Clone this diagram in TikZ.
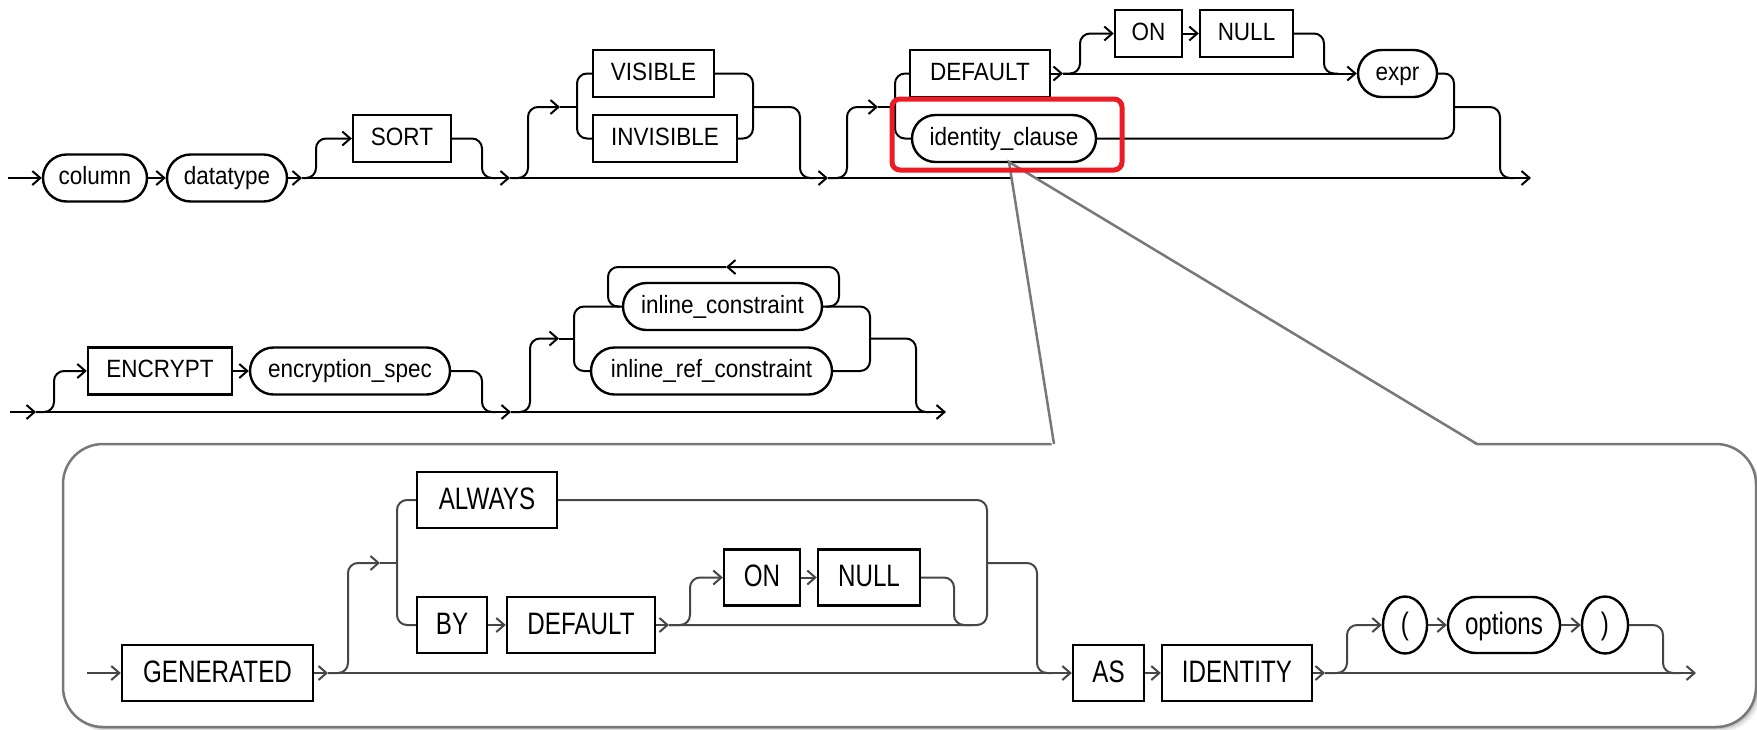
\documentclass[tikz,border=0pt]{standalone}
\usepackage{fontspec}
\newfontfamily\rrfont[FakeStretch=0.9]{Liberation Sans}
\newfontfamily\rrpanelfont[FakeStretch=0.78]{Liberation Sans}
\usetikzlibrary{arrows.meta,shapes.geometric}
\definecolor{hlred}{RGB}{236,28,36}
\definecolor{calloutgray}{RGB}{120,120,120}
\definecolor{panelline}{RGB}{70,70,70}

\tikzset{
  rail/.style={line width=2pt, rounded corners=10pt},
  prail/.style={rail, draw=panelline},
  arr/.style={-{Straight Barb[length=8pt,width=14pt]}},
  kw/.style={draw, line width=2.4pt, rectangle, inner sep=0pt, minimum height=47pt,
             font=\rrfont\fontsize{25}{25}\selectfont, text height=18pt, text depth=5pt},
  nt/.style={kw, rounded corners=23.5pt},
  pkw/.style={draw, line width=2.4pt, inner sep=0pt, minimum height=56pt,
              font=\rrpanelfont\fontsize{31}{31}\selectfont, text height=23pt, text depth=5pt},
  pnt/.style={pkw, rounded corners=28pt},
}

\begin{document}
\begin{tikzpicture}[x=1pt,y=-1pt]
\useasboundingbox (0,0) rectangle (1757,729);

% ---------------- first row: column definition
\node[nt, minimum width=104pt] (column) at (95,178) {column};
\node[nt, minimum width=120pt] (datatype) at (227,178) {datatype};
\node[kw, minimum width=98pt] (sort) at (402,138.5) {SORT};
\node[kw, minimum width=121pt] (visible) at (653.5,73.5) {VISIBLE};
\node[kw, minimum width=144pt] (invisible) at (665,138.5) {INVISIBLE};
\node[kw, minimum width=140pt] (default) at (980,73.5) {DEFAULT};
\node[nt, minimum width=184pt] (identity) at (1004,138.5) {identity\_clause};
\node[kw, minimum width=67pt] (on) at (1148.5,33.5) {ON};
\node[kw, minimum width=93pt] (null) at (1246.5,33.5) {NULL};
\node[nt, minimum width=79pt] (expr) at (1397.5,73.5) {expr};

\coordinate (r1start) at (8,178);
\coordinate (r1a) at (302,178);
\coordinate (r1b) at (510,178);
\coordinate (r1c) at (828,178);
\coordinate (r1end) at (1531,178);
\coordinate (dexit) at (1063,73.5);

\draw[rail,arr] (r1start) -- (column.west);
\draw[rail,arr] (column.east) -- (datatype.west);
\draw[rail,arr] (datatype.east) -- (r1a);
\draw[rail,arr] (r1a) -- (r1b);
\draw[rail,arr] (r1b) -- (r1c);
\draw[rail,arr] (r1c) -- (r1end);

% optional SORT
\draw[rail,arr] (r1a) -- (316,178) -- (316,138.5) -- (sort.west);
\draw[rail] (sort.east) -- (482,138.5) -- (482,178) -- (496,178);

% VISIBLE | INVISIBLE
\draw[rail,arr] (r1b) -- (528,178) -- (528,107) -- (560,107);
\draw[rail] (560,107) -- (577,107);
\draw[rail] (visible.west) -- (577,73.5) -- (577,138.5) -- (invisible.west);
\draw[rail] (visible.east) -- (753,73.5) -- (753,138.5) -- (invisible.east);
\draw[rail] (753,107) -- (800,107) -- (800,178) -- (814,178);

% DEFAULT [ON NULL] expr | identity_clause
\draw[rail,arr] (r1c) -- (847,178) -- (847,107) -- (878,107);
\draw[rail] (878,107) -- (895,107);
\draw[rail] (default.west) -- (895,73.5) -- (895,138.5) -- (identity.west);
\draw[rail,arr] (default.east) -- (dexit);
\draw[rail,arr] (dexit) -- (expr.west);
\draw[rail,arr] (dexit) -- (1080,73.5) -- (1080,33.5) -- (on.west);
\draw[rail,arr] (on.east) -- (null.west);
\draw[rail] (null.east) -- (1324,33.5) -- (1324,73.5) -- (1338,73.5);
\draw[rail] (expr.east) -- (1454,73.5) -- (1454,138.5) -- (identity.east);
\draw[rail] (1454,107) -- (1500,107) -- (1500,178) -- (1514,178);

% ---------------- second row: encryption and constraints
\node[kw, minimum width=144pt] (encrypt) at (160,371) {ENCRYPT};
\node[nt, minimum width=200pt] (encspec) at (350,371) {encryption\_spec};
\node[nt, minimum width=199pt] (inlc) at (722.5,306.5) {inline\_constraint};
\node[nt, minimum width=241pt] (inlrc) at (711.5,371) {inline\_ref\_constraint};

\coordinate (r2start) at (10,412);
\coordinate (r2a) at (36,412);
\coordinate (r2b) at (511,412);
\coordinate (r2end) at (946,412);
\coordinate (loopmid) at (726,267);

\draw[rail,arr] (r2start) -- (r2a);
\draw[rail,arr] (r2a) -- (r2b);
\draw[rail,arr] (r2b) -- (r2end);
\draw[rail,arr] (r2a) -- (54,412) -- (54,371) -- (encrypt.west);
\draw[rail,arr] (encrypt.east) -- (encspec.west);
\draw[rail] (encspec.east) -- (482,371) -- (482,412) -- (496,412);

\draw[rail,arr] (r2b) -- (530,412) -- (530,338.5) -- (559,338.5);
\draw[rail] (559,338.5) -- (574,338.5);
\draw[rail] (inlc.west) -- (574,306.5) -- (574,371) -- (inlrc.west);
% repetition loop
\draw[rail,arr] (826,306.5) -- (839,306.5) -- (839,267) -- (loopmid);
\draw[rail] (loopmid) -- (608,267) -- (608,306.5) -- (620,306.5);
\draw[rail] (inlc.east) -- (870,306.5) -- (870,371) -- (inlrc.east);
\draw[rail] (870,338.5) -- (916,338.5) -- (916,412) -- (930,412);

% ---------------- callout panel for identity_clause
\foreach \s/\o in {5/0.05, 3.5/0.08, 2/0.12}
  \fill[black, opacity=\o, rounded corners=40pt] (63+\s,444+\s) rectangle (1756+\s,727+\s);
\draw[calloutgray, line width=2.5pt, fill=white, rounded corners=40pt] (63,444) rectangle (1756,727);
\fill[white] (1052,447) -- (1009,162) -- (1479,447) -- cycle;
\draw[calloutgray, line width=2.5pt] (1054,444) -- (1009,162) -- (1477,444);

\node[pkw, minimum width=191pt] (generated) at (217.5,673) {GENERATED};
\node[pkw, minimum width=140pt] (always) at (487,500) {ALWAYS};
\node[pkw, minimum width=70pt] (by) at (452,625) {BY};
\node[pkw, minimum width=148pt] (pdefault) at (581,625) {DEFAULT};
\node[pkw, minimum width=76pt] (pon) at (762,577.5) {ON};
\node[pkw, minimum width=102pt] (pnull) at (869,577.5) {NULL};
\node[pkw, minimum width=71pt] (as) at (1108.5,673) {AS};
\node[pkw, minimum width=150pt] (ident) at (1237,673) {IDENTITY};
\node[pkw, ellipse, minimum width=44pt, minimum height=57pt] (lparen) at (1405,625) {(};
\node[pnt, minimum width=112pt] (options) at (1504,625) {options};
\node[pkw, ellipse, minimum width=46pt, minimum height=57pt] (rparen) at (1605,625) {)};

\coordinate (pstart) at (87,673);
\coordinate (pa) at (328,673);
\coordinate (pb) at (669,625);
\coordinate (pc) at (1325,673);
\coordinate (pend) at (1696,673);

\draw[prail,arr] (pstart) -- (generated.west);
\draw[prail,arr] (generated.east) -- (pa);
\draw[prail,arr] (pa) -- (as.west);
\draw[prail,arr] (pa) -- (348,673) -- (348,563) -- (380,563);
\draw[prail] (380,563) -- (397,563);
\draw[prail] (always.west) -- (397,500) -- (397,625) -- (by.west);
\draw[prail,arr] (by.east) -- (pdefault.west);
\draw[prail,arr] (pdefault.east) -- (pb);
\draw[prail] (pb) -- (987,625) -- (987,500) -- (always.east);
\draw[prail,arr] (pb) -- (690,625) -- (690,577.5) -- (pon.west);
\draw[prail,arr] (pon.east) -- (pnull.west);
\draw[prail] (pnull.east) -- (954,577.5) -- (954,625) -- (972,625);
\draw[prail] (987,563) -- (1037,563) -- (1037,673) -- (1052,673);
\draw[prail,arr] (as.east) -- (ident.west);
\draw[prail,arr] (ident.east) -- (pc);
\draw[prail,arr] (pc) -- (pend);
\draw[prail,arr] (pc) -- (1347,673) -- (1347,625) -- (lparen.west);
\draw[prail,arr] (lparen.east) -- (options.west);
\draw[prail,arr] (options.east) -- (rparen.west);
\draw[prail] (rparen.east) -- (1663,625) -- (1663,673) -- (1680,673);

% highlight around identity_clause
\draw[hlred, line width=5pt, rounded corners=8pt] (892,99) rectangle (1122,170);
\end{tikzpicture}
\end{document}
